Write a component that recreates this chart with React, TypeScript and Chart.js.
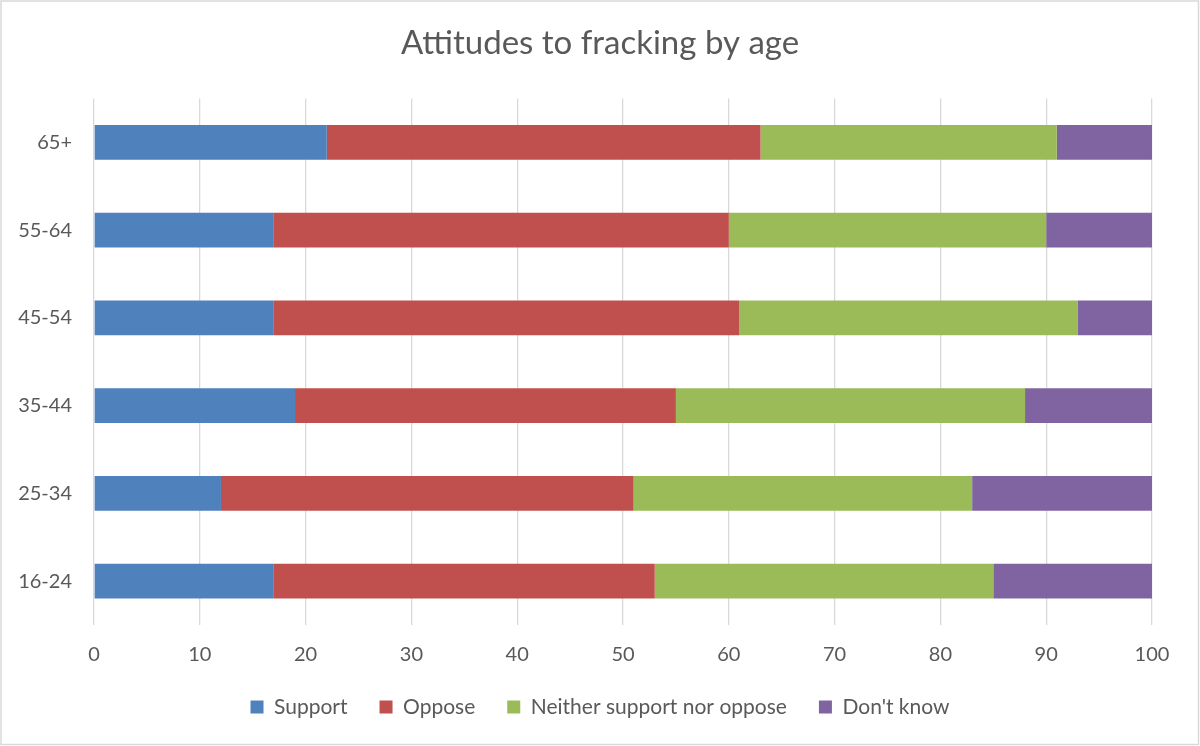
import React, { useEffect, useRef } from "react";
import { Chart, registerables } from "chart.js";

Chart.register(...registerables);

const categories = ["16-24", "25-34", "35-44", "45-54", "55-64", "65+"];
const support = [17, 12, 19, 17, 17, 22];
const oppose = [36, 39, 36, 44, 43, 41];
const neither = [32, 32, 33, 32, 30, 28];
const dontKnow = [15, 17, 12, 7, 10, 9];
const xTicks = [0, 10, 20, 30, 40, 50, 60, 70, 80, 90, 100];

const FONT = "Lato, 'Liberation Sans', sans-serif";
const TEXT = "#595959";

export default function App() {
  const ref = useRef<HTMLCanvasElement | null>(null);

  useEffect(() => {
    if (!ref.current) return;
    const frame = {
      id: "frame",
      beforeDraw(chart: any) {
        const ctx = chart.ctx;
        ctx.save();
        ctx.fillStyle = "#ffffff";
        ctx.fillRect(0, 0, chart.width, chart.height);
        ctx.strokeStyle = "#D9D9D9";
        ctx.lineWidth = 1.5;
        ctx.strokeRect(1, 1, chart.width - 2.5, chart.height - 2.5);
        ctx.restore();
      },
    };
    const chart = new Chart(ref.current, {
      type: "bar",
      data: {
        labels: categories,
        datasets: [
          { label: "Support", data: support, backgroundColor: "#4F81BD" },
          { label: "Oppose", data: oppose, backgroundColor: "#C0504D" },
          { label: "Neither support nor oppose", data: neither, backgroundColor: "#9BBB59" },
          { label: "Don't know", data: dontKnow, backgroundColor: "#8064A2" },
        ],
      },
      options: {
        indexAxis: "y",
        animation: false,
        responsive: true,
        maintainAspectRatio: false,
        datasets: { bar: { categoryPercentage: 1, barPercentage: 0.395 } },
        layout: { padding: { left: 0, right: 0, top: 0, bottom: 18.5 } },
        scales: {
          x: {
            stacked: true,
            min: 0,
            max: 100,
            afterBuildTicks: (s: any) => {
              s.ticks = xTicks.map((v) => ({ value: v }));
            },
            afterFit: (s: any) => {
              s.height = 39.5;
            },
            grid: { color: "#D9D9D9", lineWidth: 1.3, drawTicks: false },
            border: { display: false },
            ticks: { color: TEXT, font: { family: FONT, size: 20 }, padding: 18 },
          },
          y: {
            stacked: true,
            reverse: true,
            afterFit: (s: any) => {
              s.width = 94;
            },
            grid: { display: false, drawTicks: false },
            border: { display: false },
            ticks: { color: TEXT, font: { family: FONT, size: 20 }, padding: 22 },
          },
          yRight: {
            type: "category",
            position: "right",
            afterFit: (s: any) => {
              s.width = 48;
            },
            grid: { display: false, drawTicks: false },
            border: { display: false },
            ticks: { display: false },
          },
        },
        plugins: {
          title: {
            display: true,
            text: "Attitudes to fracking by age",
            color: TEXT,
            font: { family: FONT, size: 33, weight: "normal" },
            padding: { top: 24, bottom: 34.9 },
          },
          legend: {
            position: "bottom",
            labels: {
              color: TEXT,
              font: { family: FONT, size: 21 },
              boxWidth: 13,
              boxHeight: 13,
              padding: 32,
            },
          },
          tooltip: { enabled: false },
        },
      },
      plugins: [frame],
    });
    return () => chart.destroy();
  }, []);

  return (
    <div style={{ position: "absolute", left: 0, top: 0, width: 1200, height: 746 }}>
      <canvas ref={ref} />
    </div>
  );
}
